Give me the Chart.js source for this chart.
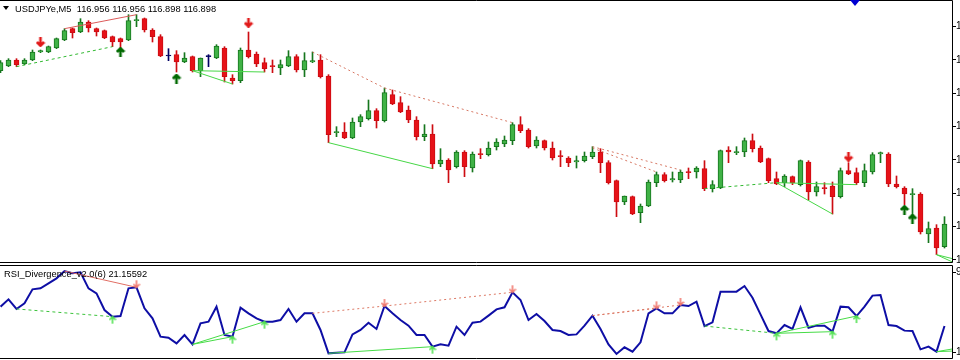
<!DOCTYPE html>
<html>
<head>
<meta charset="utf-8">
<script src="https://cdn.jsdelivr.net/npm/chart.js@4.4.0/dist/chart.umd.min.js"></script>
<style>
  html, body { margin: 0; padding: 0; background: #fff; }
  #wrap { position: relative; width: 960px; height: 360px; overflow: hidden; font-family: 'Liberation Sans', Arial, sans-serif; }
  #priceChart { position: absolute; left: 0; top: 0; }
  #rsiChart { position: absolute; left: 0; top: 263px; }
  .lbl { position: absolute; font-size: 9.3px; line-height: 10px; color: #000; white-space: pre; }
  .menu { position: absolute; left: 3px; top: 6px; width: 0; height: 0;
          border-left: 3px solid transparent; border-right: 3px solid transparent; border-top: 4px solid #000; }
  .shift { position: absolute; left: 850px; top: 0; width: 0; height: 0;
           border-left: 5px solid transparent; border-right: 5px solid transparent; border-top: 6px solid rgb(0,0,210); }
</style>
</head>
<body>
<div id="wrap">
  <canvas id="priceChart" width="960" height="263"></canvas>
  <canvas id="rsiChart" width="960" height="97"></canvas>
  <div class="menu"></div>
  <div class="lbl" style="left:15px; top:4px">USDJPYe,M5  116.956 116.956 116.898 116.898</div>
  <div class="lbl" style="left:4px; top:269px">RSI_Divergence_v2.0(6) 21.15592</div>
  <div class="shift"></div>
</div>
<script>
// USDJPYe M5 bars, oldest on the left
const opens = [117.134,117.141,117.150,117.144,117.150,117.162,117.162,117.168,117.180,117.197,
  117.192,117.207,117.197,117.194,117.185,117.182,117.180,117.209,117.212,117.195,
  117.185,117.156,117.158,117.147,117.155,117.134,117.155,117.153,117.168,117.123,
  117.119,117.165,117.159,117.146,117.141,117.138,117.141,117.155,117.135,117.147,
  117.150,117.126,117.041,117.042,117.033,117.057,117.062,117.074,117.059,117.098,
  117.086,117.075,117.060,117.035,117.039,116.994,117.000,116.990,117.012,116.988,
  117.009,117.008,117.020,117.024,117.029,117.053,117.045,117.021,117.029,117.018,
  117.006,117.003,116.997,116.999,117.005,117.012,116.996,116.969,116.937,116.945,
  116.921,116.931,116.966,116.978,116.970,116.970,116.982,116.982,116.987,116.957,
  116.958,117.015,117.011,117.012,117.029,117.018,117.002,116.972,116.966,116.975,
  116.963,116.997,116.952,116.958,116.961,116.945,116.984,116.981,116.966,116.982,
  117.009,117.009,116.964,116.958,116.948,116.949,116.889,116.898,116.870];
const highs = [117.149,117.152,117.152,117.152,117.165,117.165,117.171,117.183,117.197,117.198,
  117.212,117.209,117.198,117.195,117.186,117.183,117.218,117.218,117.213,117.197,
  117.188,117.167,117.164,117.161,117.156,117.153,117.158,117.173,117.170,117.128,
  117.168,117.192,117.162,117.153,117.150,117.150,117.164,117.158,117.161,117.162,
  117.158,117.128,117.050,117.056,117.063,117.068,117.090,117.077,117.108,117.105,
  117.095,117.081,117.065,117.053,117.053,117.017,117.002,117.014,117.014,117.012,
  117.017,117.027,117.032,117.036,117.056,117.065,117.047,117.035,117.030,117.027,
  117.014,117.005,117.006,117.012,117.020,117.017,116.999,116.970,116.946,116.946,
  116.934,116.970,116.982,116.981,116.982,116.985,116.988,116.990,116.999,116.969,
  117.015,117.020,117.020,117.033,117.039,117.021,117.003,116.982,116.978,116.976,
  117.000,116.999,116.967,116.966,116.967,116.988,116.996,116.988,116.994,117.011,
  117.012,117.011,116.976,116.960,116.957,116.951,116.907,116.903,116.915];
const lows = [117.131,117.140,117.140,117.143,117.149,117.161,117.161,117.167,117.179,117.183,
  117.191,117.192,117.186,117.182,117.170,117.168,117.179,117.200,117.192,117.177,
  117.155,117.149,117.132,117.146,117.132,117.125,117.140,117.152,117.117,117.114,
  117.116,117.153,117.140,117.132,117.131,117.128,117.140,117.132,117.125,117.146,
  117.123,117.026,117.035,117.032,117.032,117.050,117.060,117.048,117.057,117.083,
  117.071,117.056,117.030,117.029,116.987,116.990,116.966,116.988,116.975,116.982,
  117.002,117.006,117.015,117.020,117.023,117.041,117.018,117.018,117.015,117.000,
  116.990,116.990,116.988,116.997,117.002,116.981,116.964,116.915,116.933,116.918,
  116.906,116.930,116.960,116.967,116.967,116.966,116.972,116.973,116.954,116.952,
  116.957,116.996,117.008,117.005,117.012,116.996,116.966,116.963,116.960,116.963,
  116.961,116.940,116.946,116.949,116.919,116.943,116.978,116.963,116.960,116.979,
  116.996,116.960,116.958,116.933,116.915,116.889,116.876,116.858,116.868];
const closes = [117.146,117.150,117.143,117.150,117.162,117.164,117.170,117.182,117.194,117.191,
  117.207,117.198,117.192,117.183,117.177,117.177,117.209,117.210,117.195,117.185,
  117.156,117.156,117.147,117.153,117.134,117.153,117.155,117.171,117.125,117.119,
  117.165,117.155,117.144,117.137,117.140,117.143,117.155,117.135,117.149,117.149,
  117.125,117.038,117.042,117.033,117.057,117.065,117.074,117.059,117.101,117.084,
  117.072,117.060,117.035,117.039,116.994,117.000,116.985,117.012,116.990,117.009,
  117.008,117.018,117.027,117.030,117.053,117.044,117.020,117.030,117.018,117.003,
  117.005,116.996,116.999,117.006,117.012,116.996,116.966,116.937,116.946,116.919,
  116.931,116.967,116.978,116.969,116.972,116.982,116.981,116.988,116.957,116.963,
  117.014,117.012,117.012,117.029,117.017,116.997,116.969,116.964,116.976,116.966,
  116.999,116.952,116.960,116.957,116.945,116.984,116.979,116.966,116.984,117.008,
  117.011,116.964,116.960,116.949,116.949,116.892,116.897,116.868,116.904];

// RSI(6) per bar
const rsi = [56.8,63.8,54.6,60.0,73.4,74.4,79.2,84.0,91.0,88.8,
  89.8,74.4,69.6,53.6,47.2,47.8,74.4,75.4,55.2,45.6,
  28.0,27.0,21.6,29.6,20.6,40.8,42.4,56.8,29.6,28.0,
  55.8,50.4,45.6,42.4,42.4,44.0,54.6,42.4,50.4,50.4,
  34.4,12.0,12.6,13.0,30.2,34.4,41.4,35.4,57.4,50.4,
  44.0,38.6,29.6,29.6,18.4,20.6,19.4,37.6,29.6,41.4,
  42.4,48.2,54.2,56.2,70.6,63.2,44.0,49.8,43.0,34.4,
  33.4,29.6,30.2,38.6,48.2,35.4,20.6,11.4,17.8,13.6,
  22.6,50.4,55.2,50.4,50.4,58.4,57.4,61.6,38.2,41.8,
  71.2,71.2,71.2,76.6,65.4,49.4,33.4,31.2,39.2,35.4,
  56.2,36.6,38.6,38.6,32.8,56.8,56.2,47.8,56.8,67.4,
  68.0,39.2,38.2,33.8,33.4,15.8,18.4,13.6,38.2];

// divergence lines: [fromBar, fromValue, toBar, toValue]
const priceBearClassic = [[8,117.197,17,117.218]];
const priceBearHidden = [[39,117.162,48,117.108],[48,117.108,64,117.056],[74,117.020,85,116.985],[74,117.018,82,116.982]];
const priceBullClassic = [[24,117.134,29,117.114],[24,117.134,33,117.132],[41,117.026,54,116.987],
  [97,116.966,104,116.919],[97,116.966,107,116.963],[117,116.858,119,116.852],[117,116.858,119,116.847]];
const priceBullHidden = [[2,117.140,14,117.170],[88,116.957,97,116.966]];
const rsiBearClassic = [[8,91.0,17,75.4]];
const rsiBearHidden = [[39,50.4,48,57.4],[48,57.4,64,70.6],[74,48.2,82,55.2],[74,48.2,85,58.4]];
const rsiBullClassic = [[24,20.6,29,28.0],[24,20.6,33,42.4],[41,12.0,54,18.4],
  [97,31.2,104,32.8],[97,31.2,107,47.8],[117,13.6,119,16.2],[117,13.6,119,14.2]];
const rsiBullHidden = [[2,54.6,14,47.2],[88,38.2,97,31.2]];

// signal arrows
const sellBars = [5, 31, 106];
const sellPrices = [117.177, 117.206, 117.005];
const buyBars = [15, 22, 113, 114];
const buyPrices = [117.162, 117.122, 116.925, 116.912];
const rsiSellBars = [17, 48, 64, 82, 85];
const rsiBuyBars = [14, 29, 33, 54, 97, 104, 107];

const priceTicks = [117.20, 117.15, 117.10, 117.05, 117.00, 116.95, 116.90, 116.85];
const rsiTicks = [90.0, 13.0];

const xMin = -0.0625, xMax = 118.9375;
const bars = opens.map((o, i) => i);

const GREEN = 'rgb(64,178,70)', GREEN_EDGE = 'rgb(22,118,30)';
const RED = 'rgb(230,18,24)', RED_EDGE = 'rgb(205,12,18)';
const NAVY = 'rgb(0,0,100)';

function kind(i) {
  if (closes[i] > opens[i]) return 'up';
  if (closes[i] < opens[i]) return 'down';
  return 'flat';
}
const bodyFill = bars.map(i => ({ up: GREEN, down: RED, flat: NAVY })[kind(i)]);
const bodyEdge = bars.map(i => ({ up: GREEN_EDGE, down: RED_EDGE, flat: NAVY })[kind(i)]);

function arrowImage(color, up, w, h, lw, tipAtCentre) {
  const c = document.createElement('canvas');
  const H = tipAtCentre ? h * 2 : h;
  c.width = w; c.height = H;
  const g = c.getContext('2d');
  g.strokeStyle = color;
  g.lineWidth = lw;
  const cx = w / 2;
  let tip, tail;
  if (tipAtCentre) { tip = h; tail = up ? 2 * h - 1 : 1; }
  else { tip = up ? lw / 2 : h - lw / 2; tail = up ? h : 0; }
  const a = (w - lw) / 2;
  const d = up ? 1 : -1;
  g.beginPath();
  g.moveTo(cx, tip); g.lineTo(cx, tail);
  g.moveTo(cx - a, tip + d * a); g.lineTo(cx, tip); g.lineTo(cx + a, tip + d * a);
  g.stroke();
  return c;
}

function segments(list, color, dash) {
  return list.map(s => ({
    type: 'line',
    data: [{ x: s[0], y: s[1] }, { x: s[2], y: s[3] }],
    borderColor: color,
    borderWidth: 1,
    borderDash: dash,
    pointRadius: 0,
    fill: false,
    tension: 0,
    order: 1
  }));
}

const frame = {
  id: 'frame',
  afterDraw(chart) {
    const { ctx, chartArea: a } = chart;
    ctx.save();
    ctx.strokeStyle = '#000';
    ctx.lineWidth = 1;
    ctx.beginPath();
    ctx.moveTo(0, a.top - 0.5); ctx.lineTo(a.right + 0.5, a.top - 0.5);
    ctx.lineTo(a.right + 0.5, a.bottom + 0.5); ctx.lineTo(0, a.bottom + 0.5);
    ctx.stroke();
    ctx.restore();
  }
};

function rightAxis(min, max, ticks, digits) {
  return {
    position: 'right',
    min: min,
    max: max,
    afterFit(s) {
      s.width = 8;
      s.paddingTop = 0;
      s.paddingBottom = 0;
    },
    afterBuildTicks(s) { s.ticks = ticks.map(v => ({ value: v })); },
    grid: { drawOnChartArea: false, drawTicks: true, tickLength: 4, color: '#000' },
    border: { display: false },
    ticks: {
      padding: 0, autoSkip: false, color: '#000',
      font: { family: 'Liberation Sans', size: 10 },
      callback: v => Number(v).toFixed(digits)
    }
  };
}

new Chart(document.getElementById('priceChart'), {
  type: 'bar',
  data: {
    datasets: [
      {
        data: bars.map(i => ({ x: i, y: [lows[i], highs[i]] })),
        backgroundColor: bodyEdge,
        barThickness: 1,
        grouped: false,
        order: 3
      },
      {
        data: bars.map(i => ({ x: i, y: [opens[i], closes[i]] })),
        backgroundColor: bodyFill,
        borderColor: bodyEdge,
        borderWidth: 1,
        borderSkipped: false,
        barThickness: 5,
        minBarLength: 1,
        grouped: false,
        order: 2
      },
      ...segments(priceBearClassic, 'rgb(220,90,90)', []),
      ...segments(priceBearHidden, 'rgb(215,120,100)', [2, 3]),
      ...segments(priceBullClassic, 'rgb(70,215,70)', []),
      ...segments(priceBullHidden, 'rgb(50,185,50)', [3, 3]),
      {
        type: 'line', showLine: false, order: 0,
        data: sellBars.map((k, i) => ({ x: k, y: sellPrices[i] })),
        pointStyle: arrowImage('rgb(225,25,25)', false, 10, 10, 2.6, false), pointRadius: 5
      },
      {
        type: 'line', showLine: false, order: 0,
        data: buyBars.map((k, i) => ({ x: k, y: buyPrices[i] })),
        pointStyle: arrowImage('rgb(0,105,0)', true, 10, 10, 2.6, false), pointRadius: 5
      }
    ]
  },
  options: {
    responsive: false,
    animation: false,
    events: [],
    layout: { autoPadding: false, padding: { top: 1, bottom: 1, left: 0, right: 0 } },
    plugins: { legend: { display: false }, tooltip: { enabled: false } },
    scales: {
      x: { type: 'linear', display: false, offset: false, min: xMin, max: xMax },
      y: rightAxis(116.847, 117.2385, priceTicks, 3)
    }
  },
  plugins: [frame]
});

new Chart(document.getElementById('rsiChart'), {
  type: 'line',
  data: {
    datasets: [
      {
        data: bars.map(i => ({ x: i, y: rsi[i] })),
        borderColor: 'rgb(14,14,165)',
        borderWidth: 2,
        pointRadius: 0,
        tension: 0,
        fill: false,
        order: 2
      },
      ...segments(rsiBearClassic, 'rgb(225,110,100)', []),
      ...segments(rsiBearHidden, 'rgb(220,120,100)', [2, 3]),
      ...segments(rsiBullClassic, 'rgb(70,220,70)', []),
      ...segments(rsiBullHidden, 'rgb(60,195,60)', [3, 3]),
      {
        type: 'line', showLine: false, order: 0,
        data: rsiSellBars.map(k => ({ x: k, y: rsi[k] })),
        pointStyle: arrowImage('rgb(240,120,110)', false, 8, 8, 1.6, true), pointRadius: 5
      },
      {
        type: 'line', showLine: false, order: 0,
        data: rsiBuyBars.map(k => ({ x: k, y: rsi[k] })),
        pointStyle: arrowImage('rgb(80,225,80)', true, 8, 8, 1.6, true), pointRadius: 5
      }
    ]
  },
  options: {
    responsive: false,
    animation: false,
    events: [],
    layout: { autoPadding: false, padding: { top: 3, bottom: 2, left: 0, right: 0 } },
    plugins: { legend: { display: false }, tooltip: { enabled: false } },
    scales: {
      x: { type: 'linear', display: false, min: xMin, max: xMax },
      y: rightAxis(7.52, 95.84, rsiTicks, 4)
    }
  },
  plugins: [frame]
});
</script>
</body>
</html>
